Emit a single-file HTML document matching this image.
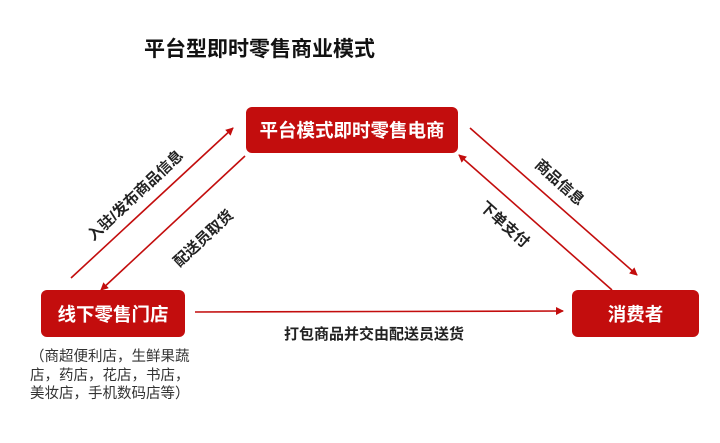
<!DOCTYPE html>
<html><head><meta charset="utf-8"><style>
body{margin:0;width:720px;height:443px;background:#fff;position:relative;overflow:hidden;font-family:"Liberation Sans","Noto Sans CJK SC",sans-serif}
.box{position:absolute;background:#c30d0d;color:#fff;font-weight:bold;font-size:18.5px;display:flex;align-items:center;justify-content:center;border-radius:6px}
.t{position:absolute;white-space:nowrap;font-weight:bold;color:#222}
</style></head><body>
<div class="t" style="left:144px;top:33px;font-size:21px;color:#111">平台型即时零售商业模式</div>
<div class="box" style="left:246px;top:107px;width:212px;height:46px">平台模式即时零售电商</div>
<div class="box" style="left:41px;top:290px;width:144px;height:47px">线下零售门店</div>
<div class="box" style="left:572px;top:290px;width:127px;height:47px">消费者</div>
<svg width="720" height="443" style="position:absolute;left:0;top:0">
<defs><marker id="a" markerWidth="8" markerHeight="8" refX="7" refY="4" orient="auto" markerUnits="userSpaceOnUse"><path d="M0,0 L8,4 L0,8 Z" fill="#c30d0d"/></marker></defs>
<g stroke="#c30d0d" stroke-width="1.6" fill="none" marker-end="url(#a)">
<line x1="71" y1="278" x2="233" y2="128"/>
<line x1="245" y1="156" x2="101" y2="290"/>
<line x1="470" y1="128" x2="637" y2="275"/>
<line x1="612" y1="290" x2="459" y2="155"/>
<line x1="195" y1="312" x2="563" y2="311"/>
</g></svg>
<div class="t" style="left:135px;top:195px;font-size:15px;transform:translate(-50%,-50%) rotate(-43deg)">入驻/发布商品信息</div>
<div class="t" style="left:203px;top:238px;font-size:15px;transform:translate(-50%,-50%) rotate(-43deg)">配送员取货</div>
<div class="t" style="left:560px;top:182px;font-size:15px;transform:translate(-50%,-50%) rotate(42deg)">商品信息</div>
<div class="t" style="left:505px;top:224px;font-size:15px;transform:translate(-50%,-50%) rotate(42deg)">下单支付</div>
<div class="t" style="left:284px;top:323px;font-size:15px">打包商品并交由配送员送货</div>
<div style="position:absolute;left:30px;top:348px;font-size:14.5px;line-height:18.5px;color:#333;width:180px">（商超便利店，生鲜果蔬<br>店，药店，花店，书店，<br>美妆店，手机数码店等）</div>
</body></html>
